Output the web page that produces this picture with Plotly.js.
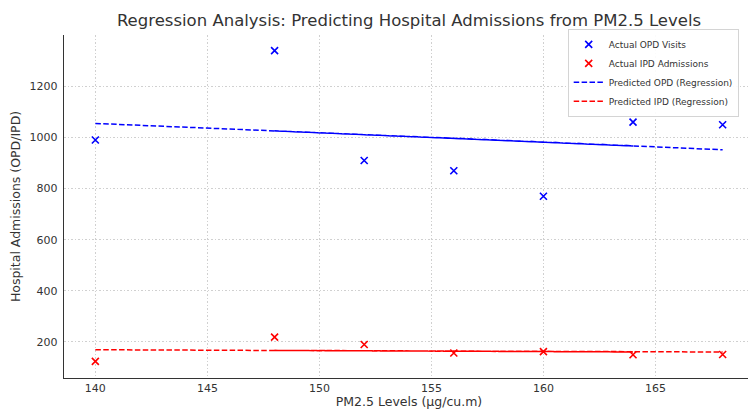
<!DOCTYPE html>
<html><head><meta charset="utf-8">
<script src="https://cdn.plot.ly/plotly-3.0.1.min.js"></script>
<style>html,body{margin:0;padding:0;overflow:hidden;background:#fff;width:748px;height:409px}</style>
</head><body><div id="chart"></div>
<script>
// data (listed in the original record order)
const pm25 = [140, 164, 148, 152, 156, 160, 168];
const opdActual = [990, 1060, 1340, 910, 870, 770, 1050];
const ipdActual = [124, 150, 219, 190, 157, 162, 151];
const opdPredicted = [1055, 967, 1026, 1011, 997, 982, 952];
const ipdPredicted = [169.6, 160.9, 167.1, 165.8, 164.5, 163.3, 160.7];
const xTicks = [140, 145, 150, 155, 160, 165];
const yTicks = [200, 400, 600, 800, 1000, 1200];

const W = 790, H = 409;
const dashPat = '5.5px,2.4px';
const traces = [
  {x: pm25, y: opdActual, type: 'scatter', mode: 'markers', name: 'Actual OPD Visits',
   marker: {symbol: 'x-thin', size: 7, color: '#0000ff', line: {width: 1.6, color: '#0000ff'}}},
  {x: pm25, y: ipdActual, type: 'scatter', mode: 'markers', name: 'Actual IPD Admissions',
   marker: {symbol: 'x-thin', size: 7, color: '#ff0000', line: {width: 1.6, color: '#ff0000'}}},
  {x: pm25, y: opdPredicted, type: 'scatter', mode: 'lines', name: 'Predicted OPD (Regression)',
   line: {color: '#0000ff', width: 1.5, dash: dashPat, simplify: false}},
  {x: pm25, y: ipdPredicted, type: 'scatter', mode: 'lines', name: 'Predicted IPD (Regression)',
   line: {color: '#ff0000', width: 1.5, dash: dashPat, simplify: false}}
];
const tickFont = {family: 'DejaVu Sans, sans-serif', size: 11, color: '#333'};
const titleFont = {family: 'DejaVu Sans, sans-serif', size: 12.5, color: '#333'};
const gridDash = '1.5px,2px';
const layout = {
  width: W, height: H,
  margin: {l: 64, r: W - 754, t: 35, b: 31, pad: 0},
  paper_bgcolor: '#fff', plot_bgcolor: '#fff',
  title: {text: 'Regression Analysis: Predicting Hospital Admissions from PM2.5 Levels',
          font: {family: 'DejaVu Sans, sans-serif', size: 16.5, color: '#333'},
          x: 0.5, xref: 'paper', xanchor: 'center', y: 1, yref: 'paper', yanchor: 'bottom', pad: {b: 9}},
  xaxis: {range: [138.6, 169.4], tickvals: xTicks, ticktext: xTicks.map(String),
          showgrid: true, gridcolor: '#d0d0d0', griddash: gridDash, gridwidth: 1,
          showline: true, linecolor: '#333', linewidth: 1.2, mirror: false,
          ticks: '', ticklabelstandoff: 0, zeroline: false,
          tickfont: tickFont,
          title: {text: 'PM2.5 Levels (µg/cu.m)', font: titleFont, standoff: 4}},
  yaxis: {range: [59, 1401], tickvals: yTicks, ticktext: yTicks.map(String),
          showgrid: true, gridcolor: '#d0d0d0', griddash: gridDash, gridwidth: 1,
          showline: true, linecolor: '#333', linewidth: 1.2, mirror: false,
          ticks: '', ticklabelstandoff: 3, zeroline: false,
          tickfont: tickFont,
          title: {text: 'Hospital Admissions (OPD/IPD)', font: titleFont, standoff: 6}},
  legend: {x: 0.73, y: 1.018, xanchor: 'left', yanchor: 'top',
           bgcolor: 'rgba(255,255,255,0.9)', bordercolor: '#d4d4d4', borderwidth: 1,
           font: {family: 'DejaVu Sans, sans-serif', size: 9, color: '#333'},
           tracegroupgap: 0, itemwidth: 30},
  showlegend: true
};
Plotly.newPlot('chart', traces, layout, {staticPlot: true, displayModeBar: false});
</script></body></html>
